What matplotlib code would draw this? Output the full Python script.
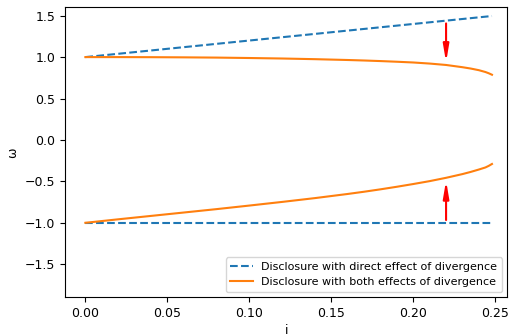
import matplotlib
matplotlib.use("Agg")
import matplotlib.pyplot as plt

# Data
x_grid = [0.0, 0.02, 0.04, 0.06, 0.08, 0.10, 0.12, 0.14, 0.16, 0.17, 0.18, 0.19, 0.20,
          0.21, 0.22, 0.23, 0.235, 0.24, 0.244, 0.246, 0.248]
both_upper = [1.0, 1.0, 0.999, 0.997, 0.994, 0.989, 0.983, 0.975, 0.965, 0.959, 0.952,
              0.944, 0.935, 0.922, 0.905, 0.878, 0.862, 0.842, 0.820, 0.805, 0.787]
both_lower = [-1.0, -0.958, -0.917, -0.876, -0.835, -0.792, -0.748, -0.702, -0.652,
              -0.625, -0.596, -0.565, -0.532, -0.497, -0.457, -0.412, -0.386, -0.357,
              -0.332, -0.313, -0.290]

direct_x = [0.0, 0.248]
direct_upper = [1.0, 1.496]
direct_lower = [-1.0, -1.0]

arrow_x = 0.22
arrow_upper = (1.44, 0.905)
arrow_lower = (-1.0, -0.457)

xticks = [0.00, 0.05, 0.10, 0.15, 0.20, 0.25]
yticks = [-1.5, -1.0, -0.5, 0.0, 0.5, 1.0, 1.5]

fig = plt.figure(figsize=(5.12, 3.36), dpi=100)
ax = fig.add_axes([0.127, 0.115, 0.864, 0.863])

ax.plot(direct_x, direct_upper, '--', color='#1f77b4', lw=1.5,
        label='Disclosure with direct effect of divergence')
ax.plot(direct_x, direct_lower, '--', color='#1f77b4', lw=1.5)
ax.plot(x_grid, both_upper, '-', color='#ff7f0e', lw=1.5,
        label='Disclosure with both effects of divergence')
ax.plot(x_grid, both_lower, '-', color='#ff7f0e', lw=1.5)

aprops = dict(arrowstyle='-|>, head_length=1.0, head_width=0.17', color='red', lw=1.5)
ax.annotate('', xy=(arrow_x, arrow_upper[1]), xytext=(arrow_x, arrow_upper[0]), arrowprops=aprops)
ax.annotate('', xy=(arrow_x, arrow_lower[1]), xytext=(arrow_x, arrow_lower[0]), arrowprops=aprops)

ax.set_xlim(-0.0124, 0.2574)
ax.set_ylim(-1.9, 1.6)
ax.set_xticks(xticks)
ax.set_yticks(yticks)
ax.tick_params(labelsize=9)
ax.set_xlabel('i', fontsize=9, labelpad=3)
ax.set_ylabel('ω', fontsize=9)
ax.legend(loc='lower right', fontsize=8)

fig.savefig('out.png', dpi=100)
